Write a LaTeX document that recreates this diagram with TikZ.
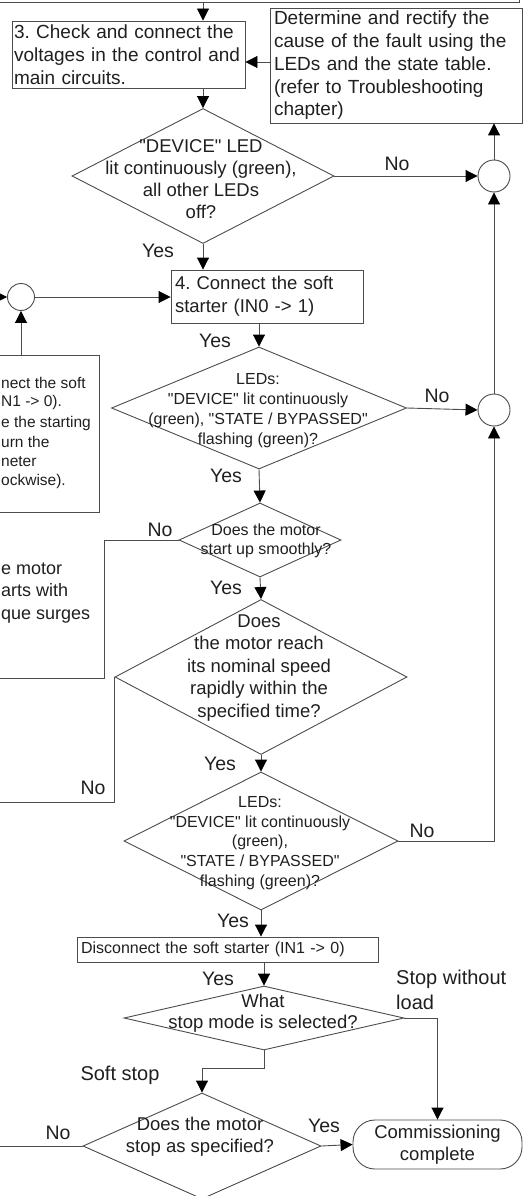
\documentclass[tikz,border=0pt]{standalone}
\usepackage{fontspec}
\setmainfont{Liberation Sans}
\usetikzlibrary{arrows.meta,shapes.geometric,calc}
\newcommand{\myfs}[2]{\fontsize{#1pt}{#2pt}\selectfont}
\newcommand{\dq}{\textquotedbl}
\frenchspacing
\begin{document}
\begin{tikzpicture}[x=1pt,y=-1pt,
  ln/.style={draw=black!70, line width=0.9pt},
  arr/.style={ln,-{Triangle[length=12pt,width=12pt,color=black]}},
  box/.style={ln,rectangle,inner sep=0pt,text=black!88},
  dia/.style={ln,diamond,inner sep=0pt},
  circ/.style={ln,circle,inner sep=0pt},
  txt/.style={inner sep=0pt,align=center,text=black!88},
  lbl/.style={inner sep=0pt,font=\myfs{19.5}{22},text height=14pt,text depth=0pt,text=black!88},
  frag/.style={inner sep=0pt,anchor=base west,text=black!88}]
\useasboundingbox (0,0) rectangle (525,1196);
\clip (0,0) rectangle (525,1196);

% boxes
\node[box,minimum width=529pt,minimum height=62pt] (TB) at (254.5,-29) {};
\node[box,minimum width=233pt,minimum height=67pt,text width=229pt,align=left,font=\myfs{19}{23}] (B3) at (128.5,54.5) {3. Check and connect the\\voltages in the control and\\main circuits.};
\node[box,minimum width=252pt,minimum height=115pt,text width=244pt,align=left,font=\myfs{19}{22.75}] (RB) at (396,65.5) {Determine and rectify the\\cause of the fault using the\\LEDs and the state table.\\(refer to Troubleshooting\\chapter)};
\node[box,minimum width=192pt,minimum height=53pt,text width=184pt,align=left,font=\myfs{18.5}{23}] (B4) at (267,296.5) {4. Connect the soft\\starter (IN0 -> 1)};
\node[box,minimum width=109pt,minimum height=157pt] (LB1) at (44.5,433.5) {};
\node[box,minimum width=301pt,minimum height=25pt,text width=293pt,align=left,font=\myfs{16}{19}] (Bd) at (227.5,949.5) {Disconnect the soft starter (IN1 -> 0)};
\node[box,rounded corners=22pt,minimum width=169pt,minimum height=49pt,align=center,font=\myfs{18.5}{22}] (CC) at (437.5,1144.5) {Commissioning\\complete};

% circles
\node[circ,minimum size=32pt] (C1) at (494,176) {};
\node[circ,minimum size=32pt] (C2) at (494,410) {};
\node[circ,minimum size=27pt] (C3) at (21,297) {};

% diamonds
\node[dia,minimum width=262pt,minimum height=135pt] (D1) at (203,176) {};
\node[txt,font=\myfs{18.5}{22}] (D1t) at (201,179) {\dq DEVICE\dq{} LED\\lit continuously (green),\\all other LEDs\\off?};
\node[dia,minimum width=295pt,minimum height=122pt] (D2) at (259,408) {};
\node[txt,font=\myfs{16}{20}] (D2t) at (258,411) {LEDs:\\\dq DEVICE\dq{} lit continuously\\(green), \dq STATE / BYPASSED\dq\\flashing (green)?};
\node[dia,minimum width=162pt,minimum height=74pt] (D3) at (260,540) {};
\node[txt,font=\myfs{16}{19}] (D3t) at (266,541) {Does the motor\\start up smoothly?};
\node[dia,minimum width=292pt,minimum height=155pt] (D4) at (261,677) {};
\node[txt,font=\myfs{18.5}{22.5}] (D4t) at (259,668) {Does\\the motor reach\\its nominal speed\\rapidly within the\\specified time?};
\node[dia,minimum width=274pt,minimum height=138pt] (D5) at (261,841) {};
\node[txt,font=\myfs{16}{19.75}] (D5t) at (260,843) {LEDs:\\\dq DEVICE\dq{} lit continuously\\(green),\\\dq STATE / BYPASSED\dq\\flashing (green)?};
\node[dia,minimum width=280pt,minimum height=64pt] (D6) at (264,1018) {};
\node[txt,font=\myfs{18.5}{21}] (D6t) at (263,1013) {What\\stop mode is selected?};
\node[dia,minimum width=238pt,minimum height=106pt] (D7) at (202,1146) {};
\node[txt,font=\myfs{18.5}{22}] (D7t) at (200,1137) {Does the motor\\stop as specified?};

% free ends
\coordinate (Lin) at (-5,297);
\coordinate (H62) at (0,62);
\coordinate (N1) at (104,678);
\coordinate (N1e) at (-5,678);
\coordinate (N2e) at (-5,802);
\coordinate (SJ) at (0,1068);
\coordinate (N3e) at (-5,1146);

% connectors
\draw[arr] (TB.south -| D1.north) -- (B3.north -| D1.north);
\draw[arr] (B3.south -| D1.north) -- (D1.north);
\draw[arr] (RB.west |- H62) -- (B3.east |- H62);
\draw[arr] (D1.east) -- (C1.west);
\draw[arr] (C1.north) -- (RB.south -| C1.north);
\draw[arr] (C2.north) -- (C1.south);
\draw[arr] (D1.south) -- (B4.north -| D1.south);
\draw[arr] (Lin) -- (C3.west);
\draw[arr] (C3.east) -- (B4.west |- C3.east);
\draw[arr] (LB1.north -| C3.south) -- (C3.south);
\draw[arr] (B4.south -| D2.north) -- (D2.north);
\draw[arr] (D2.east) -- (C2.west);
\draw[arr] (D2.south) -- (D3.north);
\draw[ln] (D3.west) -| (N1) -- (N1e);
\draw[arr] (D3.south) -- (D4.north);
\draw[ln] (D4.west) |- (N2e);
\draw[arr] (D4.south) -- (D5.north);
\draw[arr] (D5.east) -| (C2.south);
\draw[arr] (D5.south) -- (Bd.north -| D5.south);
\draw[arr] (Bd.south -| D6.north) -- (D6.north);
\draw[arr] (D6.east) -| (CC.north);
\draw[arr] (D6.south) -- (D6.south |- SJ) -| (D7.north);
\draw[ln] (D7.west) -- (N3e);
\draw[arr] (D7.east) -- (CC.west);

% labels
\node[lbl] (l1) at (397,163) {No};
\node[lbl] (l2) at (158,250) {Yes};
\node[lbl] (l3) at (215,340) {Yes};
\node[lbl] (l4) at (437,395) {No};
\node[lbl] (l5) at (226,475) {Yes};
\node[lbl] (l6) at (160,529) {No};
\node[lbl] (l7) at (226,587) {Yes};
\node[lbl] (l8) at (220,763) {Yes};
\node[lbl] (l9) at (93,787) {No};
\node[lbl] (l10) at (422,830) {No};
\node[lbl] (l11) at (233,920) {Yes};
\node[lbl] (l12) at (218,978) {Yes};
\node[lbl,font=\myfs{20}{24},anchor=west] (l13) at (396,977) {Stop without};
\node[lbl,font=\myfs{20}{24},anchor=west] (l14) at (396,1002) {load};
\node[lbl,font=\myfs{20}{24}] (l15) at (120,1073) {Soft stop};
\node[lbl] (l16) at (58,1132) {No};
\node[lbl] (l17) at (324,1125) {Yes};

% text of the boxes on the left (cut by the picture's edge)
\node[frag,font=\myfs{15.5}{19}] (f1) at (1,388.5) {nect the soft};
\node[frag,font=\myfs{15.5}{19}] (f2) at (1,406.5) {N1 -> 0).};
\node[frag,font=\myfs{15.5}{19}] (f3) at (1,427.5) {e the starting};
\node[frag,font=\myfs{15.5}{19}] (f4) at (1,447.5) {urn the};
\node[frag,font=\myfs{15.5}{19}] (f5) at (1,466.5) {neter};
\node[frag,font=\myfs{15.5}{19}] (f6) at (1,485.5) {ockwise).};
\node[frag,font=\myfs{18}{22}] (f7) at (1,574.5) {e motor};
\node[frag,font=\myfs{18}{22}] (f8) at (1,596.5) {arts with};
\node[frag,font=\myfs{18}{22}] (f9) at (1,619.5) {que surges};
\end{tikzpicture}
\end{document}
